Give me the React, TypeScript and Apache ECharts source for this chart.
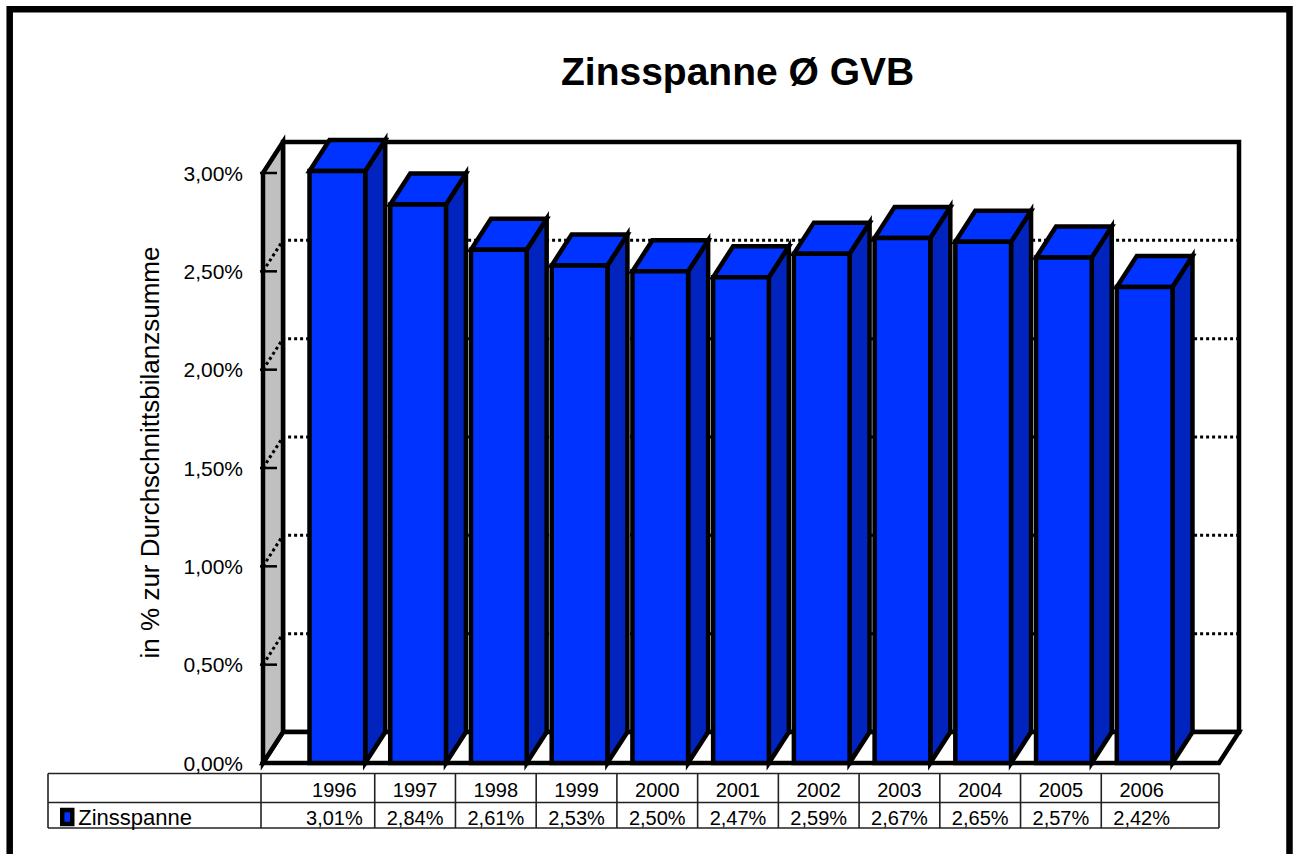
import React, { useEffect, useRef } from "react";
import * as echarts from "echarts";

// ---- data ----
const years = ["1996", "1997", "1998", "1999", "2000", "2001", "2002", "2003", "2004", "2005", "2006"];
const values = [3.01, 2.84, 2.61, 2.53, 2.5, 2.47, 2.59, 2.67, 2.65, 2.57, 2.42];
const yTicks = [0, 0.5, 1, 1.5, 2, 2.5, 3];
const yTickLabels = ["0,00%", "0,50%", "1,00%", "1,50%", "2,00%", "2,50%", "3,00%"];
const seriesName = "Zinsspanne";
const titleText = "Zinsspanne Ø GVB";
const yAxisName = "in % zur Durchschnittsbilanzsumme";

// ---- layout / style ----
const W = 1295;
const H = 854;
const GRID_LEFT = 297;
const GRID_RIGHT = 110;
const GRID_TOP = 173;
const GRID_BOTTOM = 91;
const PAD = 34; // floor extension beyond category bands
const DX = 20; // 3D depth x
const DY = 31; // 3D depth y
const BAR_RATIO = 0.69;
const FRONT = "#0033ff";
const TOP = "#0033ff";
const SIDE = "#0024bd";
const WALL = "#c0c0c0";
const EDGE = 4.5;
const FONT = "'Liberation Sans', Arial, Helvetica, sans-serif";

const valueLabels = values.map((v) => v.toFixed(2).replace(".", ",") + "%");

export default function App() {
  const ref = useRef<HTMLDivElement>(null);

  useEffect(() => {
    if (!ref.current) return;
    const chart = echarts.init(ref.current, undefined, { renderer: "svg" });

    const gridW = W - GRID_LEFT - GRID_RIGHT;
    const band = gridW / years.length;
    const floorL = GRID_LEFT - PAD;
    const floorR = GRID_LEFT + gridW + PAD;
    const rowTop = 773.5;
    const rowMid = 802.5;
    const rowBot = 828;
    const tableLeft = 48;
    const colShift = -3;

    const tableLines: any[] = [];
    const hline = (y: number) =>
      tableLines.push({
        type: "line",
        shape: { x1: tableLeft, y1: y, x2: floorR, y2: y },
        style: { stroke: "#222", lineWidth: 1.6 },
        silent: true,
      });
    hline(rowTop);
    hline(rowMid);
    hline(rowBot);
    const cols = [tableLeft, floorL - 2];
    for (let k = 1; k < years.length; k++) cols.push(GRID_LEFT + k * band + colShift);
    cols.push(floorR);
    cols.forEach((x) =>
      tableLines.push({
        type: "line",
        shape: { x1: x, y1: rowTop, x2: x, y2: rowBot },
        style: { stroke: "#222", lineWidth: 1.6 },
        silent: true,
      })
    );

    const option: any = {
      animation: false,
      backgroundColor: "#fff",
      textStyle: { fontFamily: FONT, color: "#000" },
      title: {
        text: titleText,
        left: 561,
        top: 52,
        padding: 0,
        textStyle: { fontFamily: FONT, fontSize: 39, fontWeight: "bold", color: "#000" },
      },
      legend: {
        data: [seriesName],
        left: 60,
        top: 806,
        padding: 0,
        icon: "rect",
        itemWidth: 10,
        itemHeight: 14,
        selectedMode: false,
        itemStyle: { color: FRONT, borderColor: "#000", borderWidth: 4.5 },
        textStyle: { fontFamily: FONT, fontSize: 22, color: "#000", padding: [0, 0, 0, 1] },
      },
      grid: { left: GRID_LEFT, right: GRID_RIGHT, top: GRID_TOP, bottom: GRID_BOTTOM, containLabel: false },
      xAxis: [
        {
          type: "category",
          data: years,
          position: "bottom",
          axisLine: { show: false },
          axisTick: { show: false },
          axisLabel: { interval: 0, margin: 17, fontSize: 20, color: "#000", fontFamily: FONT, padding: [0, 6, 0, 0] },
        },
        {
          type: "category",
          data: valueLabels,
          position: "bottom",
          offset: 28,
          axisLine: { show: false },
          axisTick: { show: false },
          axisLabel: { interval: 0, margin: 17, fontSize: 20, color: "#000", fontFamily: FONT, padding: [0, 6, 0, 0] },
        },
      ],
      yAxis: {
        type: "value",
        min: 0,
        max: 3,
        interval: 0.5,
        offset: PAD,
        name: yAxisName,
        nameLocation: "middle",
        nameRotate: 90,
        nameGap: 100,
        nameTextStyle: { fontFamily: FONT, fontSize: 26, color: "#000", padding: [0, 0, 0, 31] },
        axisLine: { show: false },
        axisTick: { show: false },
        splitLine: { show: false },
        axisLabel: {
          margin: 20,
          fontSize: 21,
          color: "#000",
          fontFamily: FONT,
          formatter: (v: number) => {
            const i = yTicks.indexOf(v);
            return i >= 0 ? yTickLabels[i] : "";
          },
        },
      },
      graphic: [
        {
          type: "rect",
          shape: { x: 9.7, y: 9.3, width: 1279.8, height: 900 },
          style: { fill: "none", stroke: "#000", lineWidth: 6.5 },
          silent: true,
          z: 100,
        },
        ...tableLines,
      ],
      series: [
        {
          type: "custom",
          name: "walls",
          z: 1,
          silent: true,
          xAxisIndex: 0,
          data: [[0, 0]],
          renderItem: (params: any, api: any) => {
            const cs = params.coordSys;
            const L = cs.x - PAD;
            const R = cs.x + cs.width + PAD;
            const yT = api.coord([0, yTicks[yTicks.length - 1]])[1];
            const yB = api.coord([0, 0])[1];
            const st = { stroke: "#000", lineWidth: EDGE, lineJoin: "miter" };
            return {
              type: "group",
              children: [
                {
                  type: "rect",
                  shape: { x: L + DX, y: yT - DY, width: R - L, height: yB - yT },
                  style: { fill: "#fff", ...st },
                },
                {
                  type: "polygon",
                  shape: { points: [[L, yB], [R, yB], [R + DX, yB - DY], [L + DX, yB - DY]] },
                  style: { fill: "#fff", ...st },
                },
                {
                  type: "polygon",
                  shape: { points: [[L, yB], [L, yT], [L + DX, yT - DY], [L + DX, yB - DY]] },
                  style: { fill: WALL, ...st },
                },
              ],
            };
          },
        },
        {
          type: "custom",
          name: "grid",
          z: 2,
          silent: true,
          xAxisIndex: 0,
          data: yTicks.map((t) => [0, t]),
          renderItem: (params: any, api: any) => {
            const cs = params.coordSys;
            const L = cs.x - PAD;
            const R = cs.x + cs.width + PAD;
            const v = api.value(1);
            const y = api.coord([0, v])[1];
            const children: any[] = [];
            if (v > 0 && v < yTicks[yTicks.length - 1]) {
              children.push({
                type: "polyline",
                shape: { points: [[L, y], [L + DX, y - DY], [R + DX - 2, y - DY]] },
                style: { fill: "none", stroke: "#000", lineWidth: 3, lineDash: [3, 3] },
              });
            }
            children.push({
              type: "line",
              shape: { x1: L - 3, y1: y, x2: L + 14, y2: y },
              style: { stroke: "#000", lineWidth: 2.5 },
            });
            return { type: "group", children };
          },
        },
        {
          type: "custom",
          name: seriesName,
          z: 3,
          xAxisIndex: 0,
          itemStyle: { color: FRONT },
          encode: { x: 0, y: 1 },
          data: values.map((v, i) => [i, v]),
          renderItem: (params: any, api: any) => {
            const i = api.value(0);
            const v = api.value(1);
            const top = api.coord([i, v]);
            const base = api.coord([i, 0]);
            const bw = api.size([1, 0])[0] * BAR_RATIO;
            const x0 = top[0] - bw / 2;
            const x1 = top[0] + bw / 2;
            const yt = top[1];
            const yb = base[1];
            const st = { stroke: "#000", lineWidth: EDGE, lineJoin: "miter" };
            return {
              type: "group",
              children: [
                {
                  type: "polygon",
                  shape: { points: [[x1, yt], [x1 + DX, yt - DY], [x1 + DX, yb - DY], [x1, yb]] },
                  style: { fill: SIDE, ...st },
                },
                {
                  type: "polygon",
                  shape: { points: [[x0, yt], [x1, yt], [x1 + DX, yt - DY], [x0 + DX, yt - DY]] },
                  style: { fill: TOP, ...st },
                },
                {
                  type: "rect",
                  shape: { x: x0, y: yt, width: bw, height: yb - yt },
                  style: { fill: FRONT, ...st },
                },
              ],
            };
          },
        },
      ],
    };

    chart.setOption(option);
    return () => chart.dispose();
  }, []);

  return (
    <div
      ref={ref}
      style={{ position: "fixed", left: 0, top: 0, width: W, height: H, background: "#fff" }}
    />
  );
}
